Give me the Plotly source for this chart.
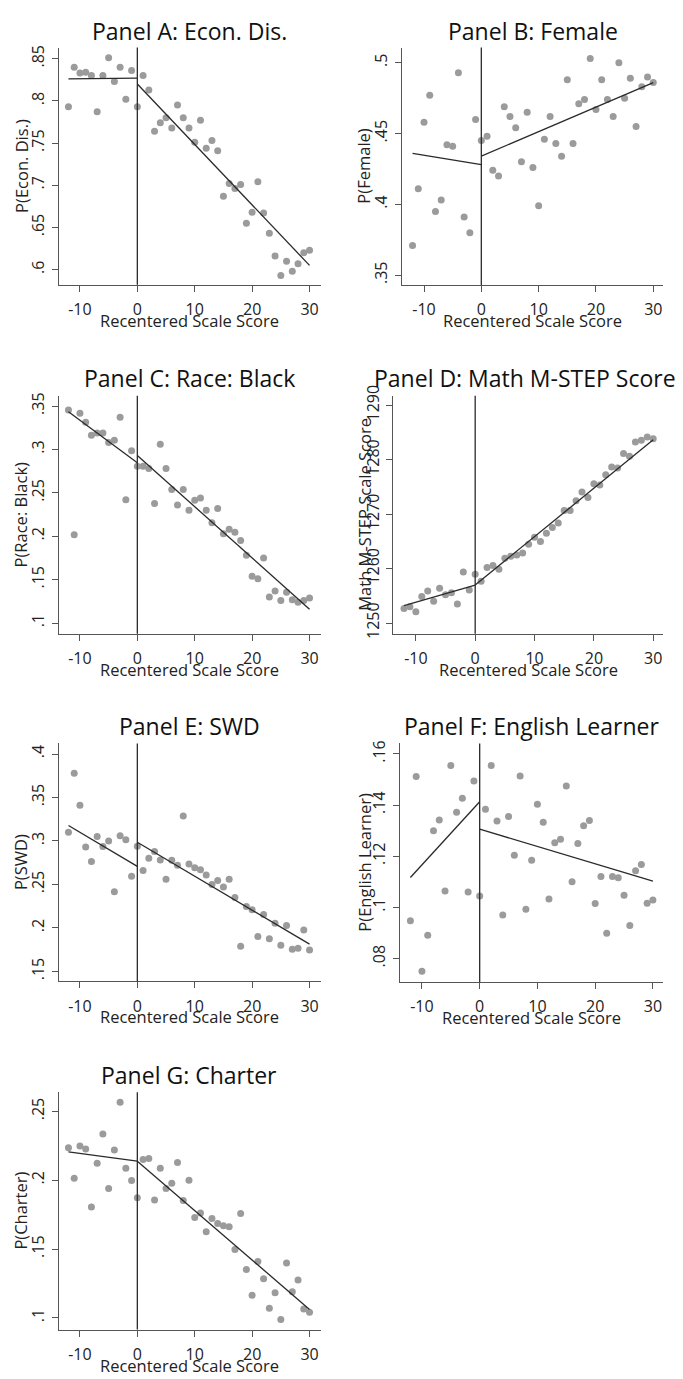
import plotly.graph_objects as go

W, H = 683, 1379

score = [-12, -11, -10, -9, -8, -7, -6, -5, -4, -3, -2, -1, 0, 1, 2, 3, 4, 5, 6, 7, 8, 9,
         10, 11, 12, 13, 14, 15, 16, 17, 18, 19, 20, 21, 22, 23, 24, 25, 26, 27, 28, 29, 30]

econ_dis = [.793, .840, .833, .834, .830, .787, .830, .851, .823, .840, .802, .836, .793,
            .830, .813, .764, .774, .780, .768, .795, .780, .768, .751, .777, .744, .753,
            .741, .687, .702, .696, .701, .655, .668, .704, .667, .643, .616, .593, .610,
            .598, .607, .620, .623]
female = [.371, .411, .458, .477, .395, .403, .442, .441, .493, .391, .380, .460, .445,
          .448, .424, .420, .469, .462, .454, .430, .465, .426, .399, .446, .462, .443,
          .434, .488, .443, .471, .474, .503, .467, .488, .474, .462, .500, .475, .489,
          .455, .483, .490, .486]
black = [.3455, .2017, .3417, .3314, .3162, .319, .319, .308, .3105, .337, .242, .2985,
         .2806, .2806, .278, .2377, .306, .278, .254, .236, .254, .230, .2415, .244, .230,
         .2157, .232, .203, .208, .2045, .195, .178, .154, .151, .175, .130, .137, .126,
         .1355, .127, .124, .126, .129]
math_score = [1252.7, 1253.0, 1252.1, 1254.9, 1255.9, 1254.0, 1256.4, 1255.2, 1255.6,
              1253.5, 1259.4, 1256.1, 1259.0, 1257.7, 1260.2, 1260.6, 1259.9, 1261.9,
              1262.3, 1262.5, 1262.9, 1264.5, 1265.8, 1265.0, 1266.5, 1267.6, 1268.4,
              1270.7, 1270.7, 1272.5, 1274.1, 1273.1, 1275.6, 1275.4, 1277.3, 1278.7,
              1278.5, 1281.2, 1280.7, 1283.3, 1283.6, 1284.2, 1283.9]
swd = [.310, .378, .341, .293, .2765, .305, .2936, .300, .2417, .306, .3015, .2595, .294,
       .266, .280, .288, .278, .256, .2777, .272, .3288, .2735, .2693, .267, .261, .250,
       .2545, .247, .256, .235, .179, .2246, .221, .190, .2155, .1875, .2053, .180, .2027,
       .1754, .1765, .1977, .1746]
english_learner = [.0948, .1512, .0751, .0891, .130, .1342, .1064, .1555, .1372, .1427,
                   .106, .1494, .1045, .1384, .1555, .1338, .097, .1355, .1204, .1514,
                   .0993, .1184, .1403, .1333, .1033, .1253, .1266, .1475, .110, .125,
                   .1319, .134, .1015, .1121, .0899, .1121, .1116, .1048, .0929, .1143,
                   .1168, .1016, .1029]
charter = [.2237, .2014, .2249, .2227, .1806, .2124, .2337, .194, .222, .2567, .2088,
           .1998, .1873, .2151, .2158, .1856, .2088, .194, .1978, .2129, .1854, .200,
           .173, .1763, .1627, .1722, .1687, .167, .1663, .1498, .1758, .1352, .1165,
           .141, .1285, .107, .1184, .0988, .140, .1191, .1275, .1065, .1041]

# fitted line end points: left segment at score -12 and 0, right segment at 0 and 30
fit_x_left = [-12, 0]
fit_x_right = [0, 30]
econ_fit_left, econ_fit_right = [.826, .827], [.820, .605]
female_fit_left, female_fit_right = [.436, .428], [.434, .486]
black_fit_left, black_fit_right = [.3435, .2847], [.2931, .116]
math_fit_left, math_fit_right = [1253.2, 1257.0], [1257.0, 1283.7]
swd_fit_left, swd_fit_right = [.3178, .2708], [.2985, .1814]
el_fit_left, el_fit_right = [.1117, .1413], [.1306, .1103]
charter_fit_left, charter_fit_right = [.2206, .2139], [.2139, .1062]

x_ticks = [-10, 0, 10, 20, 30]
x_ticktext = ["-10", "0", "10", "20", "30"]

econ_ticks = [.6, .65, .7, .75, .8, .85]
econ_ticktext = [".6", ".65", ".7", ".75", ".8", ".85"]
female_ticks = [.35, .4, .45, .5]
female_ticktext = [".35", ".4", ".45", ".5"]
black_ticks = [.1, .15, .2, .25, .3, .35]
black_ticktext = [".1", ".15", ".2", ".25", ".3", ".35"]
math_ticks = [1250, 1260, 1270, 1280, 1290]
math_ticktext = ["1250", "1260", "1270", "1280", "1290"]
swd_ticks = [.15, .2, .25, .3, .35, .4]
swd_ticktext = [".15", ".2", ".25", ".3", ".35", ".4"]
el_ticks = [.08, .1, .12, .14, .16]
el_ticktext = [".08", ".1", ".12", ".14", ".16"]
charter_ticks = [.1, .15, .2, .25]
charter_ticktext = [".1", ".15", ".2", ".25"]

FONT = "Open Sans"
PT_COLOR = "#9b9b9b"
LINE_COLOR = "#2a2a2a"
AX_COLOR = "#555555"
TICK_SIZE = 16
LABEL_SIZE = 16.5
TITLE_SIZE = 23

panels = [
    dict(title="Panel A: Econ. Dis.", ytitle="P(Econ. Dis.)", y=econ_dis,
         fl=econ_fit_left, fr=econ_fit_right, yt=econ_ticks, ytt=econ_ticktext,
         px=(58.7, 321), py=(37, 277), xr=(-13.7, 32.0), yr=(.582, .8632),
         title_xy=(189, 20), ytitle_x=20.7),
    dict(title="Panel B: Female", ytitle="P(Female)", y=female,
         fl=female_fit_left, fr=female_fit_right, yt=female_ticks, ytt=female_ticktext,
         px=(402, 663.3), py=(37, 277.3), xr=(-13.84, 31.75), yr=(.343, .5107),
         title_xy=(532.7, 20), ytitle_x=363.3),
    dict(title="Panel C: Race: Black", ytitle="P(Race: Black)", y=black,
         fl=black_fit_left, fr=black_fit_right, yt=black_ticks, ytt=black_ticktext,
         px=(58.7, 321), py=(389.3, 630), xr=(-13.7, 32.0), yr=(.0878, .3618),
         title_xy=(189, 371.7), ytitle_x=20.7),
    dict(title="Panel D: Math M-STEP Score", ytitle="Math M-STEP Scale Score", y=math_score,
         fl=math_fit_left, fr=math_fit_right, yt=math_ticks, ytt=math_ticktext,
         px=(393.3, 663.3), py=(389.3, 630), xr=(-13.8, 31.7), yr=(1248.05, 1291.8),
         title_xy=(525, 371.7), ytitle_x=365),
    dict(title="Panel E: SWD", ytitle="P(SWD)", y=swd,
         fl=swd_fit_left, fr=swd_fit_right, yt=swd_ticks, ytt=swd_ticktext,
         px=(58.7, 321), py=(741, 981.7), xr=(-13.7, 32.0), yr=(.1386, .4122),
         title_xy=(189, 723.3), ytitle_x=20.7),
    dict(title="Panel F: English Learner", ytitle="P(English Learner)", y=english_learner,
         fl=el_fit_left, fr=el_fit_right, yt=el_ticks, ytt=el_ticktext,
         px=(400, 663.3), py=(741, 982.3), xr=(-13.8, 31.8), yr=(.0709, .1641),
         title_xy=(531.7, 723.3), ytitle_x=365),
    dict(title="Panel G: Charter", ytitle="P(Charter)", y=charter,
         fl=charter_fit_left, fr=charter_fit_right, yt=charter_ticks, ytt=charter_ticktext,
         px=(58.7, 321), py=(1094, 1334), xr=(-13.7, 32.0), yr=(.0916, .2639),
         title_xy=(189, 1076.7), ytitle_x=20.7),
]

fig = go.Figure()
annotations = []
shapes = []
layout = {}

for i, p in enumerate(panels, start=1):
    xa = "x" if i == 1 else f"x{i}"
    ya = "y" if i == 1 else f"y{i}"
    fig.add_trace(go.Scatter(x=score, y=p["y"], mode="markers", xaxis=xa, yaxis=ya,
                             marker=dict(color=PT_COLOR, size=7, line=dict(width=0)),
                             showlegend=False, hoverinfo="x+y"))
    fig.add_trace(go.Scatter(x=fit_x_left, y=p["fl"], mode="lines", xaxis=xa, yaxis=ya,
                             line=dict(color=LINE_COLOR, width=1.3), showlegend=False))
    fig.add_trace(go.Scatter(x=fit_x_right, y=p["fr"], mode="lines", xaxis=xa, yaxis=ya,
                             line=dict(color=LINE_COLOR, width=1.3), showlegend=False))

    x0, x1 = p["px"]
    yt, yb = p["py"]
    xkey = "xaxis" if i == 1 else f"xaxis{i}"
    ykey = "yaxis" if i == 1 else f"yaxis{i}"
    layout[xkey] = dict(
        domain=[x0 / W, x1 / W], anchor=ya, range=list(p["xr"]),
        tickmode="array", tickvals=x_ticks, ticktext=x_ticktext,
        showline=True, linecolor=AX_COLOR, linewidth=1.3, mirror=False,
        ticks="outside", ticklen=6, tickwidth=1.2, tickcolor=AX_COLOR,
        showgrid=False, zeroline=False, ticklabelstandoff=4,
        tickfont=dict(family=FONT, size=TICK_SIZE, color="#222222"),
    )
    layout[ykey] = dict(
        domain=[1 - yb / H, 1 - yt / H], anchor=xa, range=list(p["yr"]),
        tickmode="array", tickvals=p["yt"], ticktext=p["ytt"], tickangle=-90,
        showline=True, linecolor=AX_COLOR, linewidth=1.3, mirror=False,
        ticks="outside", ticklen=6, tickwidth=1.2, tickcolor=AX_COLOR,
        showgrid=False, zeroline=False, ticklabelstandoff=1,
        tickfont=dict(family=FONT, size=TICK_SIZE, color="#222222"),
    )
    shapes.append(dict(type="line", xref=xa, yref=f"{ya} domain", x0=0, x1=0, y0=0, y1=1,
                       line=dict(color=LINE_COLOR, width=1.3)))
    tx, ty = p["title_xy"]
    annotations.append(dict(text=p["title"], x=tx / W, y=1 - ty / H, xref="paper", yref="paper",
                            xanchor="center", yanchor="middle", showarrow=False,
                            font=dict(family=FONT, size=TITLE_SIZE, color="#111111")))
    annotations.append(dict(text="Recentered Scale Score", x=(x0 + x1) / 2 / W,
                            y=1 - (yb + 36) / H, xref="paper", yref="paper",
                            xanchor="center", yanchor="middle", showarrow=False,
                            font=dict(family=FONT, size=LABEL_SIZE, color="#222222")))
    annotations.append(dict(text=p["ytitle"], x=p["ytitle_x"] / W, y=1 - (yt + yb) / 2 / H,
                            xref="paper", yref="paper", textangle=-90,
                            xanchor="center", yanchor="middle", showarrow=False,
                            font=dict(family=FONT, size=LABEL_SIZE, color="#222222")))

fig.update_layout(
    width=W, height=H, margin=dict(l=0, r=0, t=0, b=0),
    paper_bgcolor="white", plot_bgcolor="white",
    annotations=annotations, shapes=shapes, **layout,
)

fig.write_html("out.html")
